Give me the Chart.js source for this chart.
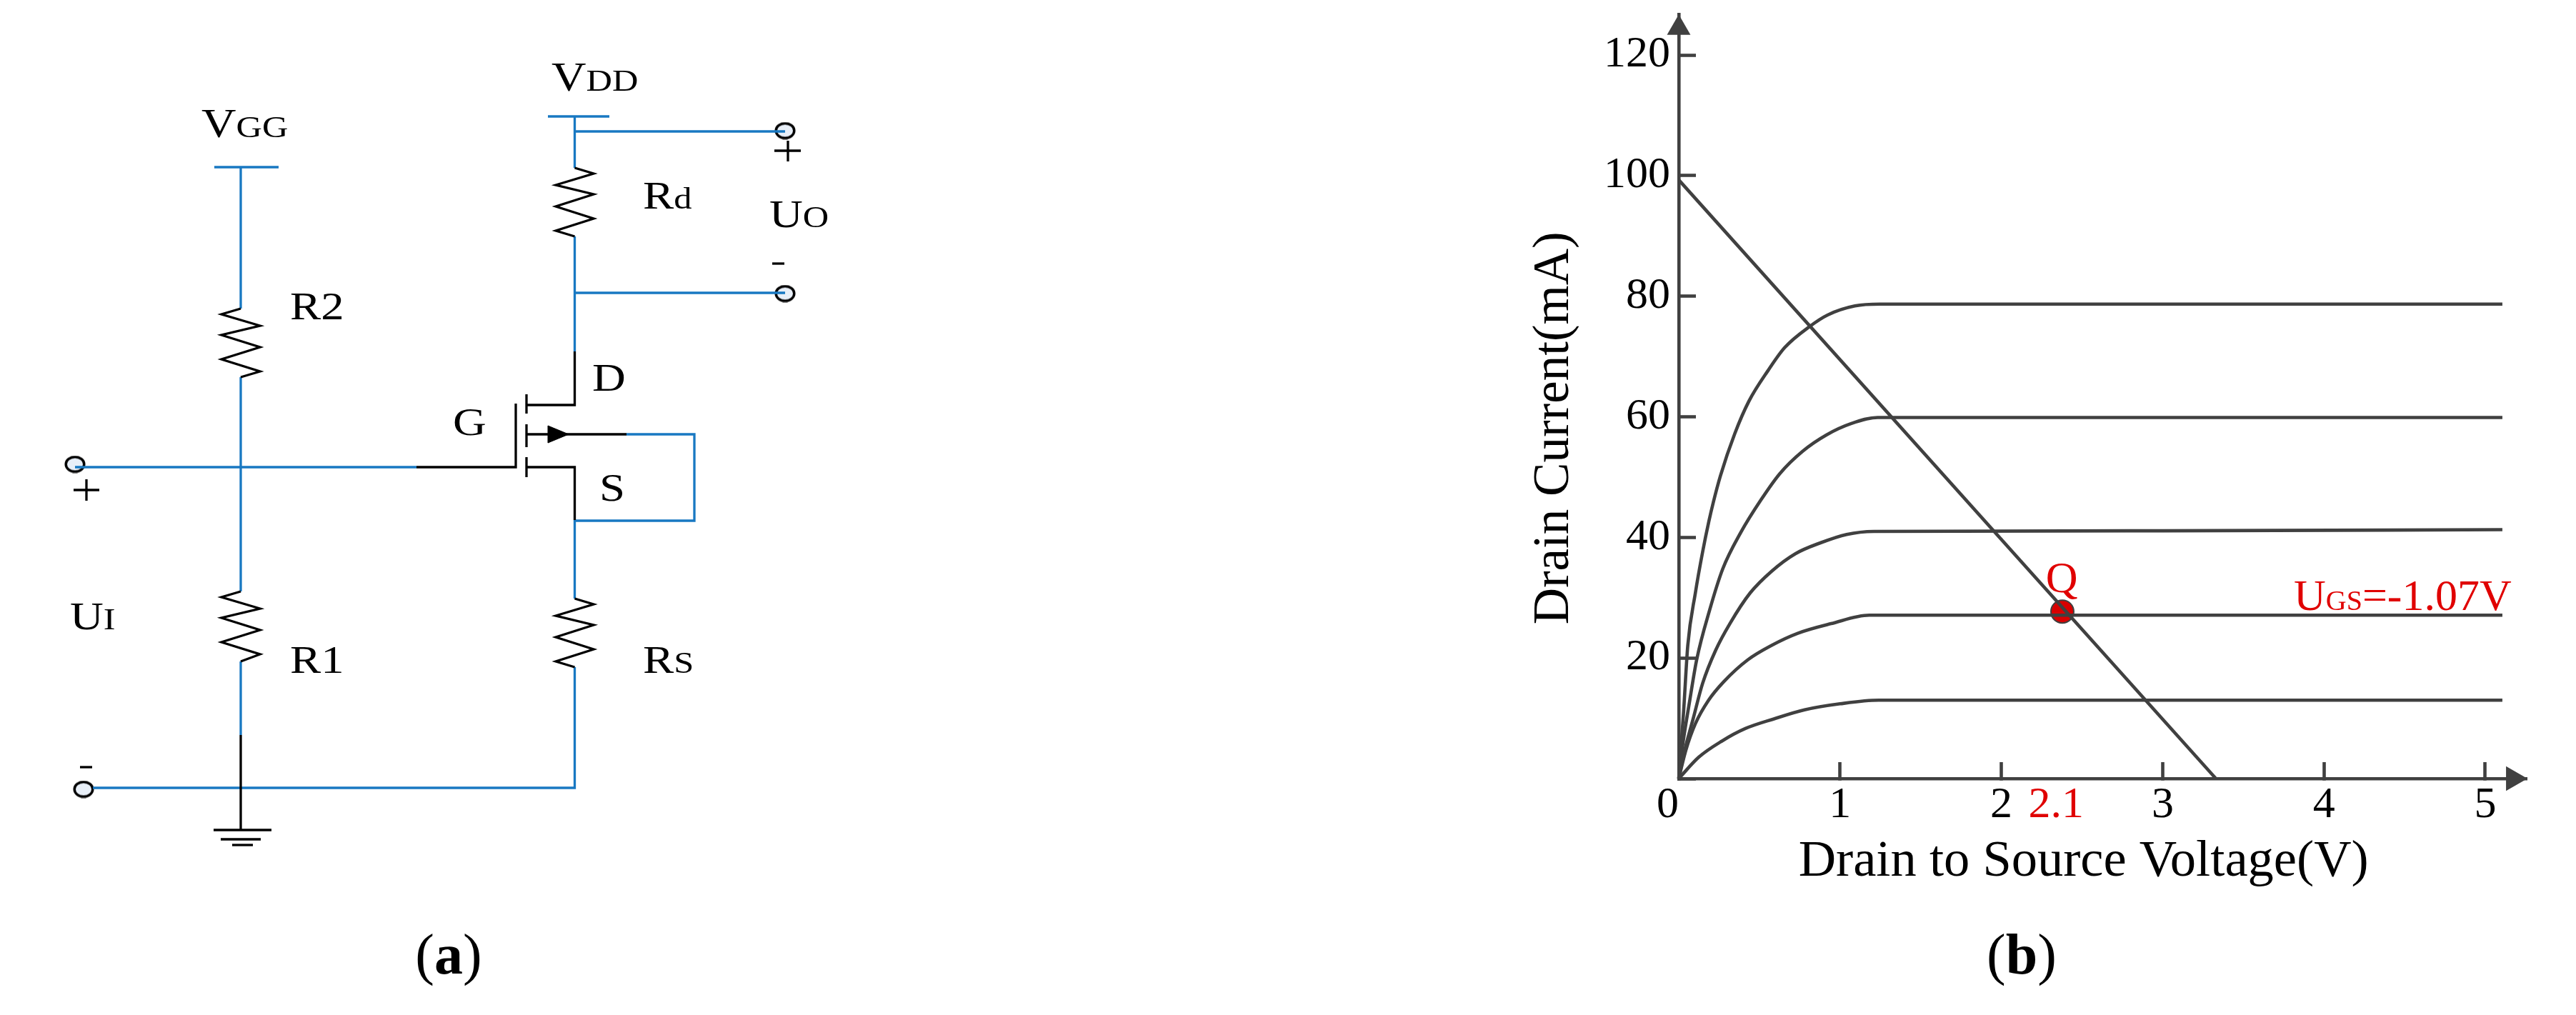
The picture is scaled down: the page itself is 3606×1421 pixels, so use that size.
<!DOCTYPE html>
<html><head><meta charset="utf-8">
<script src="https://cdn.jsdelivr.net/npm/chart.js@4/dist/chart.umd.min.js"></script>
<style>
html,body{margin:0;padding:0;background:#fff;width:3606px;height:1421px;overflow:hidden}
canvas{position:absolute;top:0}
</style></head><body>
<canvas id="a" width="1300" height="1421" style="left:0"></canvas>
<canvas id="b" width="1506" height="1421" style="left:2100px"></canvas>
<script>
// ---------- panel (b): output characteristic ----------
const xTickValues=[0,1,2,2.34,3,4,5];
const xTickLabels=['0\u2002','1','2','2.1','3','4','5'];
const yTickValues=[0,20,40,60,80,100,120];
const yTickLabels=['','20','40','60','80','100','120'];
const curve78=[[0,0],[.03,11.1],[.056,22.1],[.103,30.8],[.148,37.6],[.187,42.7],[.214,45.8],[.258,50.2],[.347,57.2],[.435,62.6],[.554,67.7],[.657,71.5],[.812,75],[.923,76.9],[1.092,78.4],[1.247,78.7],[5.106,78.7]];
const curve60=[[0,0],[.022,5.1],[.066,12.6],[.111,19.7],[.192,28],[.273,34.8],[.384,40.8],[.509,46.2],[.627,50.6],[.768,54.3],[.915,57],[1.07,58.9],[1.233,59.9],[5.106,59.9]];
const curve41=[[0,0],[.037,4.7],[.089,9.9],[.148,15.8],[.229,21.3],[.317,25.7],[.443,30.8],[.576,34.4],[.723,37.3],[.878,39.1],[1.041,40.5],[1.21,41],[3,41.1],[5.106,41.3]];
const curve27=[[0,0],[.044,4.7],[.103,9.1],[.185,13],[.28,16.1],[.428,19.7],[.576,22.1],[.738,24.1],[.945,25.7],[1.181,27.1],[5.106,27.1]];
const curve13=[[0,0],[.124,3.55],[.266,6.2],[.413,8.3],[.59,9.9],[.78,11.4],[1,12.4],[1.24,13],[5.106,13]];
const loadLine=[[0,99.3],[3.33,0]];
const qPoint=[[2.378,27.7]];
const xArrow=[[5.173,0]];
const yArrow=[[0,124.5]];
const xMax=5.26, yMax=126.8;
const xTitle='Drain to Source Voltage(V)   ';
const yTitle='Drain Current(mA)     ';
const qLabel={x:2.374,y:30.9,runs:[['Q',62]]};
const ugsLabel={x:3.813,y:27.96,runs:[['U',62],['GS',40],['=-1.07V',62]]};
const captionB={x:2830,y:1363};

// ---------- panel (a): circuit schematic ----------
const blueWires=[
 [[337,234],[337,432]],[[337,528],[337,828]],[[337,926],[337,1029]],
 [[804.5,163],[804.5,235]],[[804.5,184],[1099,184]],[[804.5,331],[804.5,492]],[[804.5,410],[1099,410]],
 [[804.5,728],[804.5,838]],[[804.5,934],[804.5,1103],[130,1103]],
 [[877,608],[972,608],[972,729],[804.5,729]],
 [[105,654],[583,654]],[[767,163],[853,163]],[[300,234],[390,234]]
];
const blackWires=[
 [[337,432],[310,440],[364,456],[310,469],[364,486],[310,503],[364,520],[337,528]],
 [[337,828],[310,836],[364,852],[310,865],[364,882],[310,899],[364,916],[337,926]],
 [[804.5,235],[831,243],[778,259],[831,272],[778,289],[831,306],[778,323],[804.5,331]],
 [[804.5,838],[831,846],[778,862],[831,875],[778,892],[831,909],[778,926],[804.5,934]],
 [[804.5,492],[804.5,567],[737,567]],[[737,654],[804.5,654],[804.5,728]],[[737,608],[877,608]],
 [[583,654],[722,654],[722,565]],
 [[737,552],[737,579]],[[737,594],[737,626]],[[737,640],[737,668]],
 [[337,1029],[337,1162]],[[299,1162],[380,1162]],[[309,1175],[365,1175]],[[325,1183],[354,1183]],
 [[1084,211],[1121,211]],[[1103,197],[1103,226]],[[103,686],[139,686]],[[121,671],[121,701]],
 [[1081,369],[1098,369]],[[112,1074],[129,1074]]
];
const arrowHead=[[767,596],[796,608],[767,620],[767,596]];
const terminals=[[1099,183],[1099,411],[105,650],[117,1105]];
const circuitLabels=[
 {x:772,y:127,runs:[['V',56],['DD',42]]},{x:282,y:192,runs:[['V',56],['GG',42]]},
 {x:900,y:292,runs:[['R',54],['d',42]]},{x:1077,y:318,runs:[['U',54],['O',42]]},
 {x:829,y:547,runs:[['D',54]]},{x:839,y:701,runs:[['S',54]]},{x:634,y:609,runs:[['G',54]]},
 {x:406,y:447,runs:[['R2',54]]},{x:406,y:942,runs:[['R1',54]]},
 {x:900,y:942,runs:[['R',54],['S',42]]},{x:98,y:881,runs:[['U',54],['I',42]]}
];
const captionA={x:628,y:1363};

const SERIF='"Liberation Serif"';
const INK='#404040', BLUE='#1878c2', RED='#e00000';
const pts=a=>a.map(p=>({x:p[0],y:p[1]}));
const ln=(d,c,w,extra)=>Object.assign({type:'line',data:pts(d),borderColor:c,borderWidth:w,pointRadius:0,fill:false,clip:false,parsing:false,borderCapStyle:'butt'},extra||{});

// elliptical terminal marker used as the point style of the terminals dataset
const terminalGlyph=document.createElement('canvas');
terminalGlyph.width=30;terminalGlyph.height=25;
(function(){const g=terminalGlyph.getContext('2d');g.beginPath();g.ellipse(15,12.5,12.8,10.3,0,0,Math.PI*2);g.fillStyle='#e8eff8';g.fill();g.lineWidth=3.5;g.strokeStyle='#000';g.stroke();})();

function drawRuns(ctx,px,py,runs,color,stretch){
  ctx.save();ctx.translate(px,py);ctx.scale(stretch||1,1);
  ctx.fillStyle=color;ctx.textBaseline='alphabetic';ctx.textAlign='left';
  let cx=0;
  runs.forEach(r=>{ctx.font=r[1]+'px '+SERIF;ctx.fillText(r[0],cx,0);cx+=ctx.measureText(r[0]).width;});
  ctx.restore();
}
function caption(ctx,cx,y,letter){
  const f=80;ctx.textBaseline='alphabetic';ctx.textAlign='left';ctx.fillStyle='#000';
  ctx.font=f+'px '+SERIF;const o=ctx.measureText('(').width;
  ctx.font='bold '+f+'px '+SERIF;const m=ctx.measureText(letter).width;
  let x=cx-(o*2+m)/2;
  ctx.font=f+'px '+SERIF;ctx.fillText('(',x,y);x+=o;
  ctx.font='bold '+f+'px '+SERIF;ctx.fillText(letter,x,y);x+=m;
  ctx.font=f+'px '+SERIF;ctx.fillText(')',x,y);
}

new Chart(document.getElementById('a'),{
 type:'scatter',
 data:{datasets:[
  ...blackWires.map(w=>ln(w,'#000',3.3)),
  ln(arrowHead,'#000',1,{fill:'shape',backgroundColor:'#000'}),
  ...blueWires.map(w=>ln(w,BLUE,3.3)),
  {type:'scatter',data:pts(terminals),pointStyle:terminalGlyph,pointRadius:12,clip:false,parsing:false}
 ]},
 options:{responsive:false,animation:false,
  layout:{padding:0,autoPadding:false},
  plugins:{legend:{display:false},tooltip:{enabled:false}},
  scales:{x:{type:'linear',display:false,min:0,max:1300},y:{type:'linear',display:false,min:0,max:1421,reverse:true}}
 },
 plugins:[{id:'labelsA',afterDraw(c){
  const ctx=c.ctx;ctx.save();
  circuitLabels.forEach(l=>drawRuns(ctx,c.scales.x.getPixelForValue(l.x),c.scales.y.getPixelForValue(l.y),l.runs,'#000',1.2));
  caption(ctx,c.scales.x.getPixelForValue(captionA.x),c.scales.y.getPixelForValue(captionA.y),'a');
  ctx.restore();
 }}]
});

const curveOpts={cubicInterpolationMode:'monotone'};
const W=4.6;
new Chart(document.getElementById('b'),{
 type:'scatter',
 data:{datasets:[
  ln(curve78,INK,W,curveOpts),ln(curve60,INK,W,curveOpts),ln(curve41,INK,W,curveOpts),ln(curve27,INK,W,curveOpts),ln(curve13,INK,W,curveOpts),
  ln(loadLine,INK,W),
  {type:'scatter',data:pts(xArrow),pointStyle:'triangle',pointRotation:90,pointRadius:20,pointBackgroundColor:INK,pointBorderWidth:0,clip:false,parsing:false},
  {type:'scatter',data:pts(yArrow),pointStyle:'triangle',pointRotation:0,pointRadius:19,pointBackgroundColor:INK,pointBorderWidth:0,clip:false,parsing:false},
  {type:'scatter',data:pts(qPoint),pointStyle:'circle',pointRadius:16,pointBackgroundColor:'#d80000',pointBorderColor:INK,pointBorderWidth:2,clip:false,parsing:false}
 ]},
 options:{responsive:false,animation:false,
  layout:{padding:{left:0,top:19.8,right:68.3,bottom:177.5},autoPadding:false},
  plugins:{legend:{display:false},tooltip:{enabled:false}},
  scales:{
   x:{type:'linear',min:0,max:xMax,
    afterBuildTicks:s=>{s.ticks=xTickValues.map(v=>({value:v}));},
    afterFit:s=>{s.height=153.5;s.paddingLeft=0;s.paddingRight=0;},
    border:{color:INK,width:W},
    grid:{drawOnChartArea:false,drawTicks:true,tickLength:-23,tickWidth:W,tickColor:c=>c.tick&&c.tick.value===2.34?'rgba(0,0,0,0)':INK},
    ticks:{autoSkip:false,maxRotation:0,padding:30,font:{family:SERIF,size:62,lineHeight:1},
     color:c=>c.tick&&c.tick.value===2.34?RED:'#000',
     callback:v=>xTickLabels[xTickValues.indexOf(v)]},
    title:{display:true,text:xTitle,color:'#000',font:{family:SERIF,size:72.5,lineHeight:1},padding:0}
   },
   y:{type:'linear',min:0,max:yMax,
    afterBuildTicks:s=>{s.ticks=yTickValues.map(v=>({value:v}));},
    afterFit:s=>{s.width=250;s.paddingTop=0;s.paddingBottom=0;},
    border:{color:INK,width:W},
    grid:{drawOnChartArea:false,drawTicks:true,tickLength:-24,tickWidth:W,tickColor:INK},
    ticks:{autoSkip:false,padding:36,color:'#000',font:{family:SERIF,size:62,lineHeight:1},
     callback:v=>yTickLabels[yTickValues.indexOf(v)]},
    title:{display:true,text:yTitle,color:'#000',font:{family:SERIF,size:71,lineHeight:1},padding:{top:41,bottom:41}}
   }
  }
 },
 plugins:[{id:'labelsB',afterDraw(c){
  const ctx=c.ctx;ctx.save();
  [qLabel,ugsLabel].forEach(l=>{
    let px=c.scales.x.getPixelForValue(l.x),py=c.scales.y.getPixelForValue(l.y);
    if(l===qLabel){ctx.font=l.runs[0][1]+'px '+SERIF;px-=ctx.measureText(l.runs[0][0]).width/2;}
    drawRuns(ctx,px,py,l.runs,RED,1);
  });
  caption(ctx,captionB.x-2100,captionB.y,'b');
  ctx.restore();
 }}]
});
</script>
</body></html>
